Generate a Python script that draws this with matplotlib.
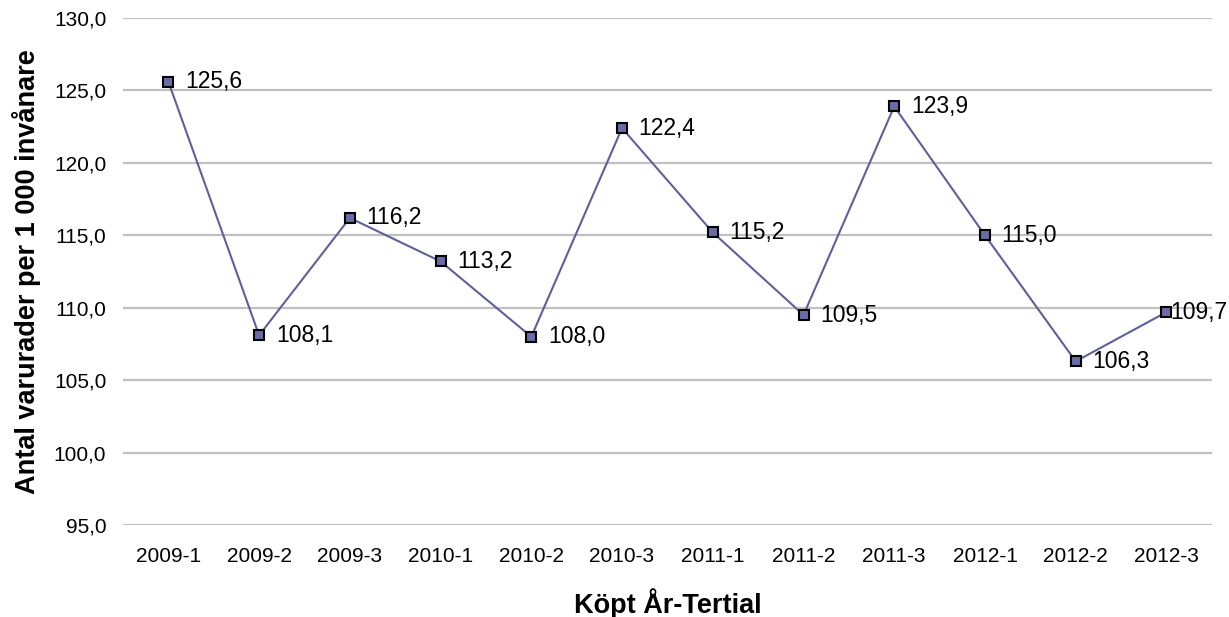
import matplotlib
matplotlib.use("Agg")
import matplotlib.pyplot as plt

categories = ["2009-1", "2009-2", "2009-3", "2010-1", "2010-2", "2010-3",
              "2011-1", "2011-2", "2011-3", "2012-1", "2012-2", "2012-3"]
values = [125.6, 108.1, 116.2, 113.2, 108.0, 122.4, 115.2, 109.5, 123.9, 115.0, 106.3, 109.7]
yticks = [95, 100, 105, 110, 115, 120, 125, 130]

plt.rcParams['font.family'] = ['Liberation Sans', 'DejaVu Sans']

fig = plt.figure(figsize=(12.29, 6.17), dpi=100)
ax = fig.add_axes([0.1001, 0.149, 0.8859, 0.8218])

x = list(range(len(categories)))
ax.plot(x, values, color="#5F5F9C", linewidth=1.5, marker="s", markersize=6.5,
        markerfacecolor="#6B6BA8", markeredgecolor="black", markeredgewidth=1.5, zorder=3)

n = len(values)
for xi, v in zip(x, values):
    # last label is pushed back against the marker so it fits inside the figure
    off = 3 if xi == n - 1 else 12
    ax.annotate(f"{v:.1f}".replace(".", ","), (xi, v), xytext=(off, 0),
                textcoords="offset points", ha="left", va="center", fontsize=16.5,
                color="black", zorder=4)

ax.set_xlim(-0.5, len(categories) - 0.5)
ax.set_ylim(95, 130)
ax.set_yticks(yticks)
ax.set_yticklabels([f"{t:.1f}".replace(".", ",") for t in yticks], fontsize=15)
ax.set_xticks(x)
ax.set_xticklabels(categories, fontsize=15)
ax.tick_params(axis="x", length=0, pad=16)
ax.tick_params(axis="y", length=0, pad=12)
ax.yaxis.grid(True, color="#C0C0C0", linewidth=1.6)
ax.set_axisbelow(True)
for s in ax.spines.values():
    s.set_visible(False)

ax.set_xlabel("Köpt År-Tertial", fontsize=19.5, fontweight="bold", labelpad=16)
ax.set_ylabel("Antal varurader per 1 000 invånare", fontsize=19.5, fontweight="bold", labelpad=9)

fig.savefig("out.png", dpi=100)
